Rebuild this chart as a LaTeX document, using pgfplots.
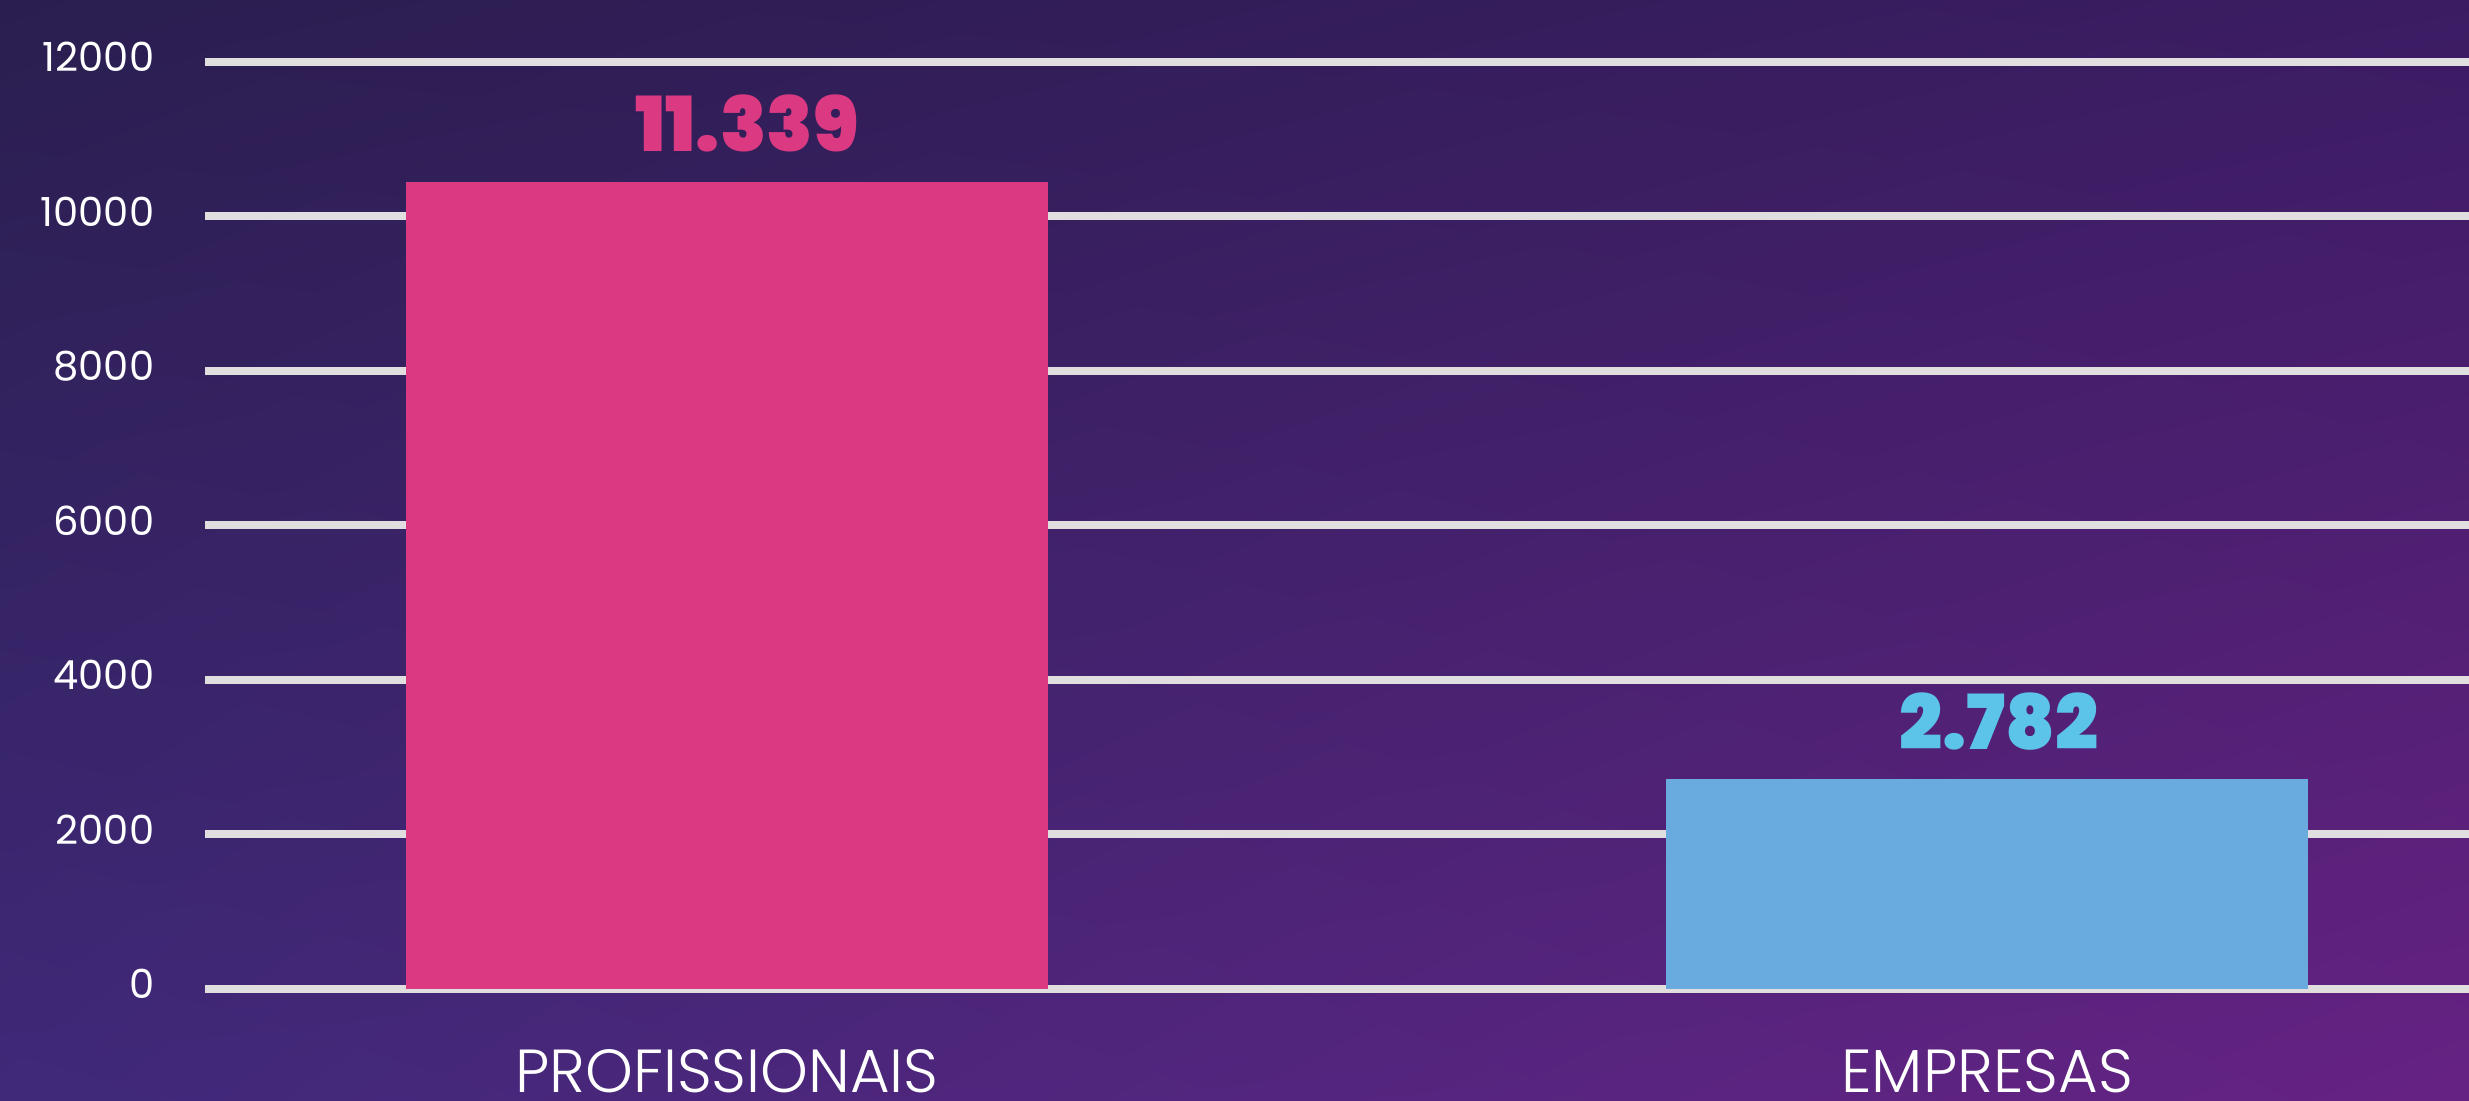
\documentclass[border=0pt]{standalone}
\usepackage{pgfplots}
\pgfplotsset{compat=1.18}
\usetikzlibrary{shadings}
\usepackage{fontspec}
\setmainfont{Poppins}
\newfontfamily\heavyfont{Poppins Black}
\newfontfamily\lightfont{Poppins Light}

\definecolor{bgUL}{HTML}{2A1E4F}
\definecolor{bgUR}{HTML}{3B1C63}
\definecolor{bgLL}{HTML}{3F2979}
\definecolor{bgLR}{HTML}{662283}
\definecolor{gridgray}{HTML}{E0DEDF}
\definecolor{pinkbar}{HTML}{DB3A82}
\definecolor{bluebar}{HTML}{6AABDF}
\definecolor{bluelabel}{HTML}{5BC4E8}

\begin{document}
\begin{tikzpicture}
\useasboundingbox (0,0) rectangle (24.69,11);
% fondo degradado
\shade[upper left=bgUL, upper right=bgUR, lower left=bgLL, lower right=bgLR]
  (0,0) rectangle (24.69,11);

\begin{axis}[
    at={(2.05cm,1.11cm)},
    anchor=south west,
    scale only axis,
    width=22.64cm,
    height=9.27cm,
    xmin=-0.4143, xmax=1.3825,
    ymin=0, ymax=12000,
    axis line style={draw=none},
    major tick length=0pt,
    ytick={0,2000,...,12000},
    scaled y ticks=false,
    xtick={0,1},
    xticklabels={PROFISSIONAIS, EMPRESAS},
    ymajorgrids=true,
    grid style={line width=0.08cm, color=gridgray},
    clip=false,
    /pgf/number format/assume math mode=true,
    /pgf/number format/1000 sep={},
    yticklabel style={font=\fontsize{11.4}{12}\selectfont, text=white,
        anchor=east, inner sep=0pt, xshift=-0.5cm, yshift=0.05cm},
    xticklabel style={font=\lightfont\fontsize{17.3}{18}\selectfont, text=white,
        anchor=north, inner sep=0pt, text depth=0pt, yshift=-0.6cm},
]

% Profissionais
\addplot[ybar, bar width=6.42cm, fill=pinkbar, draw=none,
    nodes near coords, point meta=explicit symbolic,
    nodes near coords style={font=\heavyfont\fontsize{21.6}{22}\selectfont,
        text=pinkbar, anchor=south, inner sep=0pt, yshift=0.29cm, xshift=0.2cm}]
    coordinates {(0,10450) [11.339]};

% Empresas
\addplot[ybar, bar width=6.42cm, fill=bluebar, draw=none,
    nodes near coords, point meta=explicit symbolic,
    nodes near coords style={font=\heavyfont\fontsize{21.6}{22}\selectfont,
        text=bluelabel, anchor=south, inner sep=0pt, yshift=0.28cm, xshift=0.12cm}]
    coordinates {(1,2720) [2.782]};

\end{axis}
\end{tikzpicture}
\end{document}
